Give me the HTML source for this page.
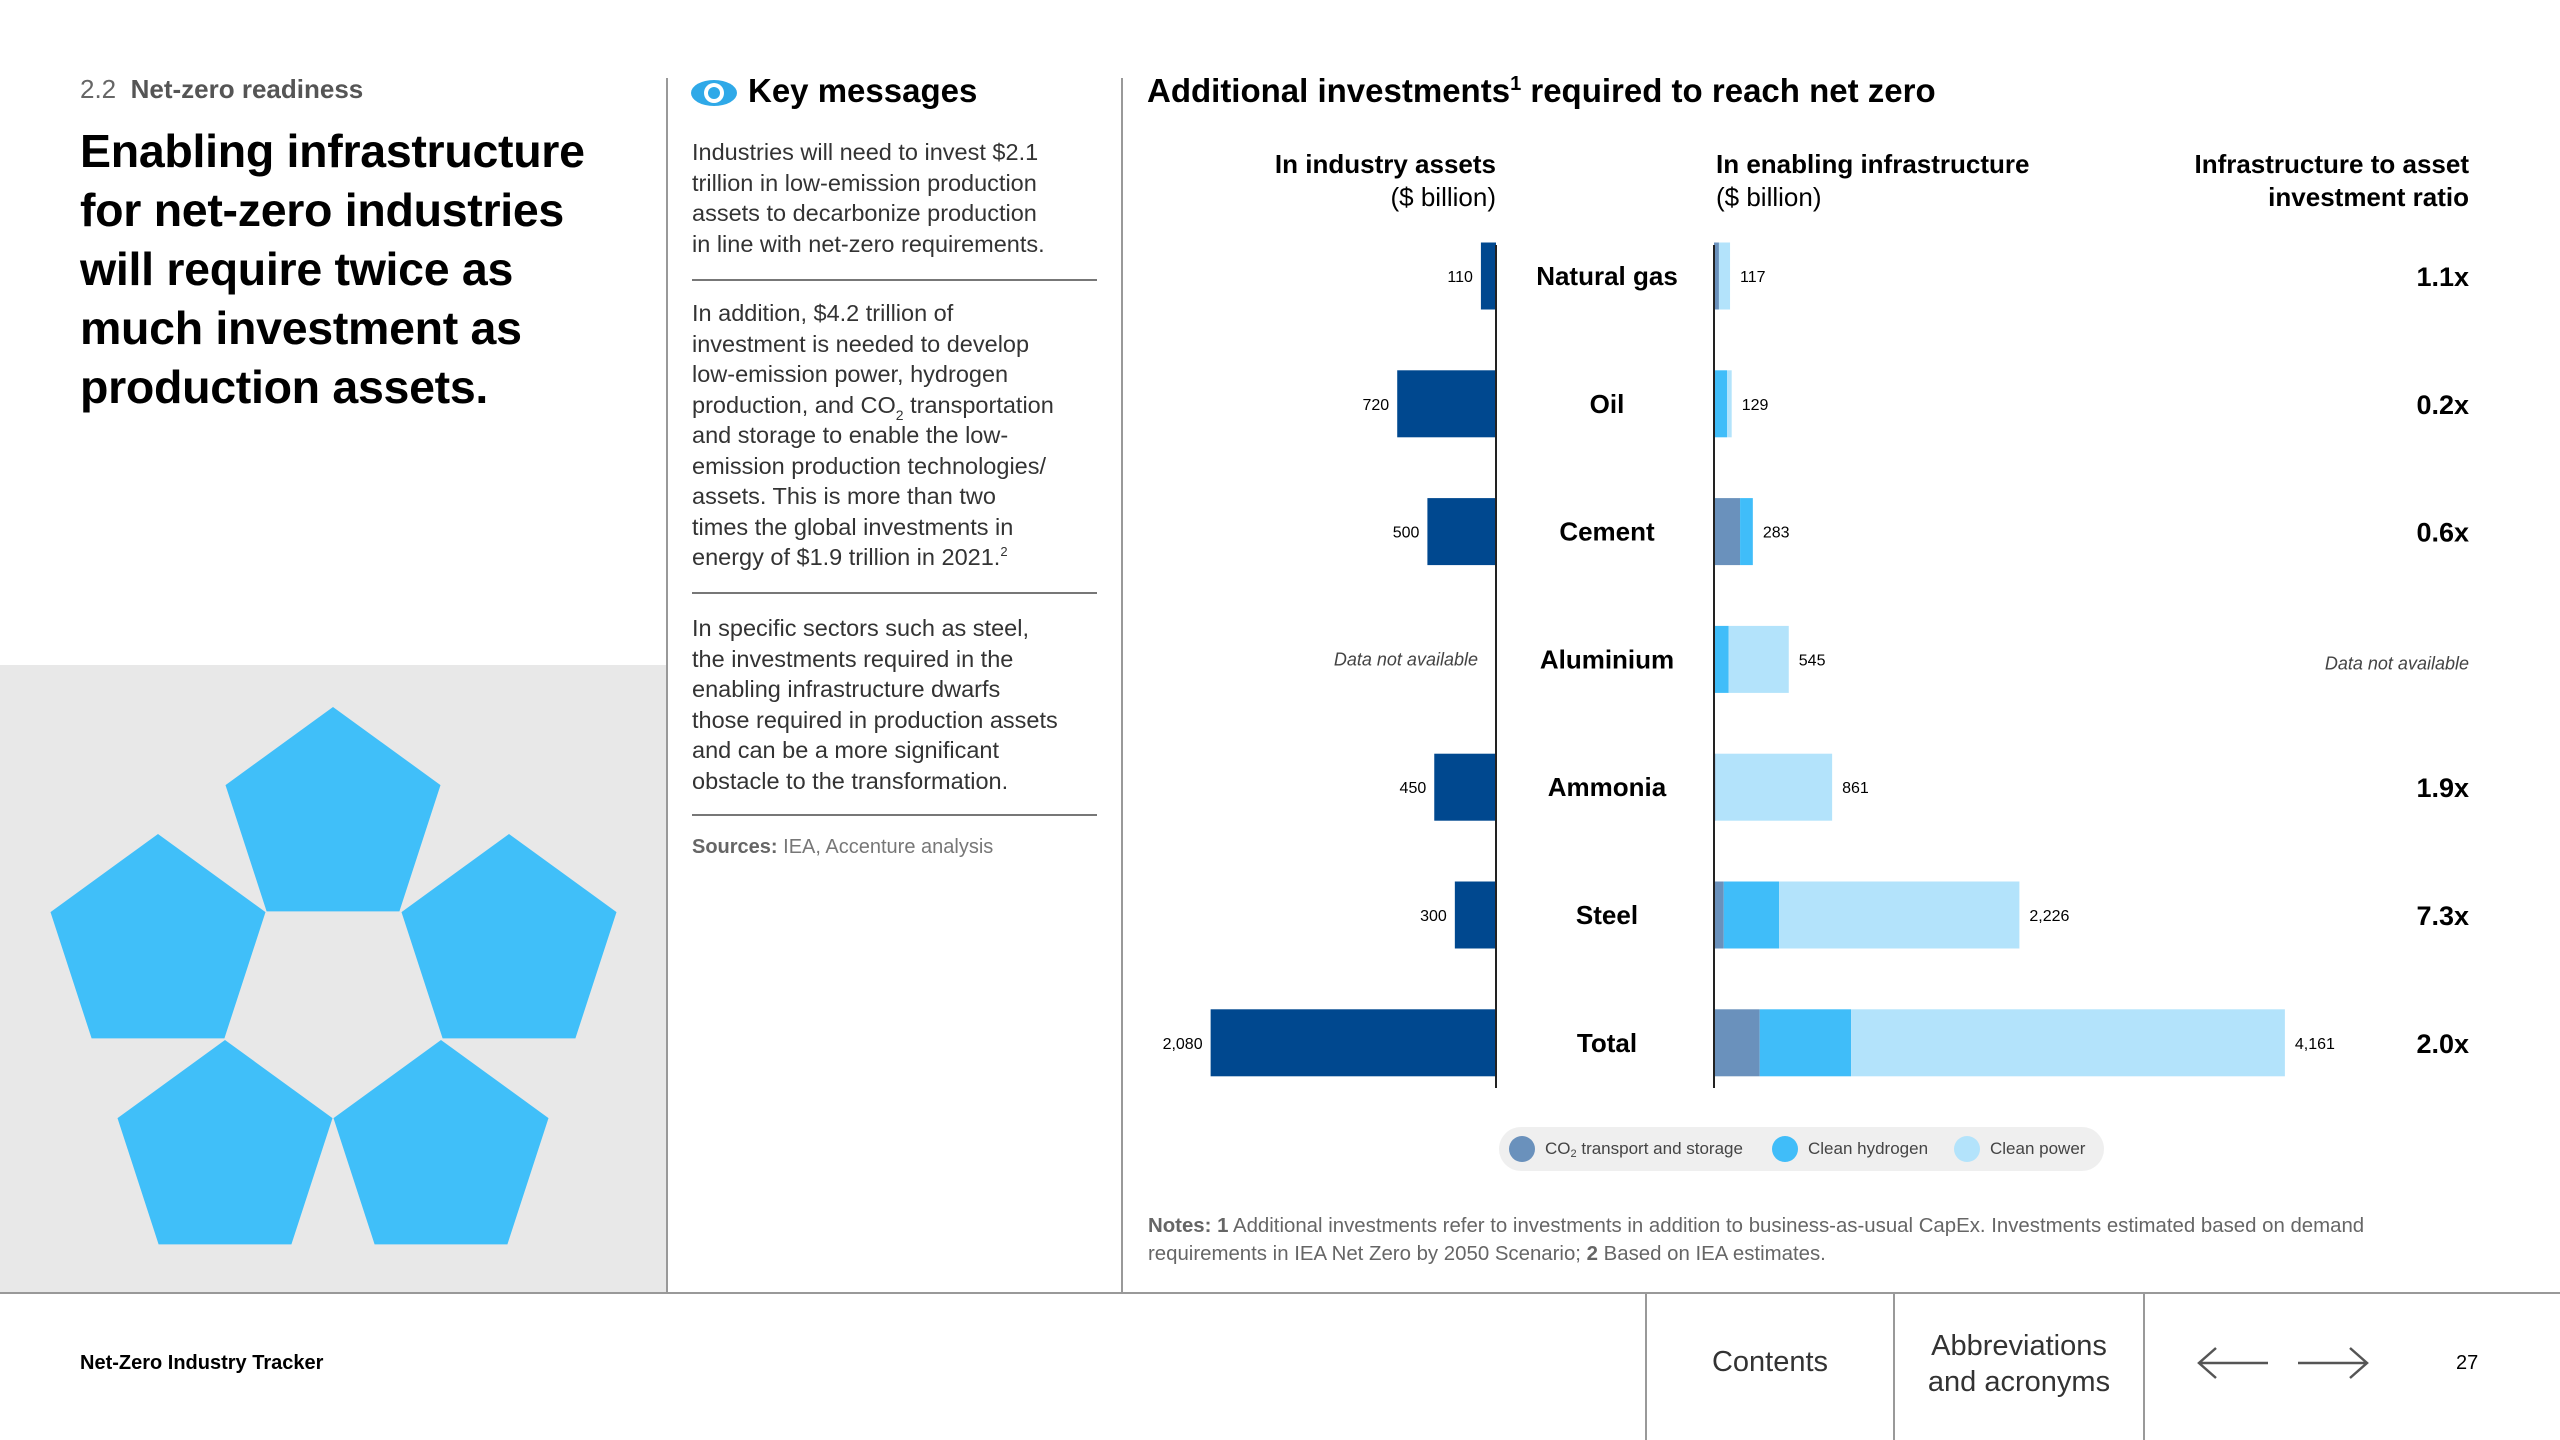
<!DOCTYPE html>
<html><head><meta charset="utf-8">
<style>
*{margin:0;padding:0;box-sizing:border-box}
body{width:2560px;height:1440px;position:relative;background:#fff;font-family:"Liberation Sans",sans-serif;color:#000;overflow:hidden}
.abs{position:absolute}
.body-txt{font-size:23.5px;line-height:30.5px;color:#333}
.sep{position:absolute;left:692px;width:405px;height:2px;background:#777}
.sb{position:relative;font-size:14px;line-height:0;top:7px}
.sp{position:relative;font-size:13px;line-height:0;top:-9px}
</style></head><body>
<div class="abs" style="left:80px;top:74px;font-size:26px;color:#666">2.2&nbsp; <span style="font-weight:bold;color:#555">Net-zero readiness</span></div>
<div class="abs" style="left:80px;top:122px;font-size:46.5px;line-height:59px;font-weight:bold;letter-spacing:-0.3px">Enabling infrastructure<br>for net-zero industries<br>will require twice as<br>much investment as<br>production assets.</div>
<div class="abs" style="left:0;top:665px;width:666px;height:628px;background:#e8e8e8"></div>
<svg class="abs" style="left:0;top:0" width="666" height="1293" id="pent"></svg>
<div class="abs" style="left:666px;top:78px;width:2px;height:1215px;background:#999"></div>
<div class="abs" style="left:1121px;top:78px;width:2px;height:1215px;background:#999"></div>
<svg class="abs" style="left:690px;top:78px" width="48" height="30"><ellipse cx="24" cy="15" rx="23" ry="13" fill="#2fa9e8"/><circle cx="24" cy="15" r="10" fill="#fff"/><circle cx="24" cy="15" r="6" fill="#2fa9e8"/></svg>
<div class="abs" style="left:748px;top:72px;font-size:33px;font-weight:bold">Key messages</div>
<div class="abs body-txt" style="left:692px;top:137px">Industries will need to invest $2.1<br>trillion in low-emission production<br>assets to decarbonize production<br>in line with net-zero requirements.</div>
<div class="sep" style="top:279px"></div>
<div class="abs body-txt" style="left:692px;top:298px">In addition, $4.2 trillion of<br>investment is needed to develop<br>low-emission power, hydrogen<br>production, and CO<span class="sb">2</span> transportation<br>and storage to enable the low-<br>emission production technologies/<br>assets. This is more than two<br>times the global investments in<br>energy of $1.9 trillion in 2021.<span class="sp">2</span></div>
<div class="sep" style="top:592px"></div>
<div class="abs body-txt" style="left:692px;top:613px">In specific sectors such as steel,<br>the investments required in the<br>enabling infrastructure dwarfs<br>those required in production assets<br>and can be a more significant<br>obstacle to the transformation.</div>
<div class="sep" style="top:814px"></div>
<div class="abs" style="left:692px;top:836px;font-size:20px;color:#777"><b style="color:#666">Sources:</b> IEA, Accenture analysis</div>

<div class="abs" style="left:1147px;top:72px;font-size:33px;font-weight:bold">Additional investments<span style="position:relative;font-size:20px;line-height:0;top:-12px">1</span> required to reach net zero</div>
<div class="abs" style="right:1064px;top:148px;font-size:26px;line-height:33px;text-align:right"><b>In industry assets</b><br>($ billion)</div>
<div class="abs" style="left:1716px;top:148px;font-size:26px;line-height:33px"><b>In enabling infrastructure</b><br>($ billion)</div>
<div class="abs" style="right:91px;top:148px;font-size:26px;line-height:33px;text-align:right;font-weight:bold">Infrastructure to asset<br>investment ratio</div>
<svg class="abs" id="chart" style="left:0;top:0" width="2560" height="1120"></svg>

<div class="abs" style="left:1499px;top:1127px;width:605px;height:44px;border-radius:22px;background:#efefef;font-size:17px;color:#444">
<span class="abs" style="left:10px;top:9px;display:flex;align-items:center;white-space:nowrap"><i style="display:inline-block;width:26px;height:26px;border-radius:50%;background:#6a91bc;margin-right:10px"></i>CO<span style="position:relative;font-size:11px;top:5px">2</span>&nbsp;transport and storage</span>
<span class="abs" style="left:273px;top:9px;display:flex;align-items:center;white-space:nowrap"><i style="display:inline-block;width:26px;height:26px;border-radius:50%;background:#40bdf9;margin-right:10px"></i>Clean hydrogen</span>
<span class="abs" style="left:455px;top:9px;display:flex;align-items:center;white-space:nowrap"><i style="display:inline-block;width:26px;height:26px;border-radius:50%;background:#b3e3fb;margin-right:10px"></i>Clean power</span>
</div>
<div class="abs" style="left:1148px;top:1212px;font-size:20.4px;line-height:28px;color:#666"><b>Notes: 1</b> Additional investments refer to investments in addition to business-as-usual CapEx. Investments estimated based on demand<br>requirements in IEA Net Zero by 2050 Scenario; <b>2</b> Based on IEA estimates.</div>

<div class="abs" style="left:0;top:1292px;width:2560px;height:2px;background:#999"></div>
<div class="abs" style="left:80px;top:1352px;font-size:20px;font-weight:bold">Net-Zero Industry Tracker</div>
<div class="abs" style="left:1645px;top:1293px;width:2px;height:147px;background:#999"></div>
<div class="abs" style="left:1893px;top:1293px;width:2px;height:147px;background:#999"></div>
<div class="abs" style="left:2143px;top:1293px;width:2px;height:147px;background:#999"></div>
<div class="abs" style="left:1647px;width:246px;top:1346px;text-align:center;font-size:29px;color:#333">Contents</div>
<div class="abs" style="left:1895px;width:248px;top:1328px;text-align:center;font-size:29px;line-height:36px;color:#333">Abbreviations<br>and acronyms</div>
<svg class="abs" style="left:2196px;top:1346px" width="74" height="34"><path d="M72 17H4M20 2L3 17L20 32" stroke="#555" stroke-width="2.5" fill="none"/></svg>
<svg class="abs" style="left:2296px;top:1346px" width="74" height="34"><path d="M2 17H70M54 2L71 17L54 32" stroke="#555" stroke-width="2.5" fill="none"/></svg>
<div class="abs" style="left:2456px;top:1352px;font-size:20px">27</div>

<script>
const categories=["Natural gas","Oil","Cement","Aluminium","Ammonia","Steel","Total"];
const assets=[110,720,500,null,450,300,2080];
const co2=[36,0,190,0,10,71,333];
const hydrogen=[0,95,93,107,0,404,666];
const power=[81,34,0,438,851,1751,3162];
const totals=[117,129,283,545,861,2226,4161];
const ratios=["1.1x","0.2x","0.6x",null,"1.9x","7.3x","2.0x"];

const NS="http://www.w3.org/2000/svg";
const svg=document.getElementById('chart');
const leftAxis=1496, rightAxis=1714, k=0.1372, rowTop=276, rowStep=127.8, barH=67;
function yC(i){return rowTop+i*rowStep;}
function sx(v){return v*k;}
function mk(tag,attrs){const e=document.createElementNS(NS,tag);for(const a in attrs)e.setAttribute(a,attrs[a]);svg.appendChild(e);return e;}
function txt(x,y,s,attrs){const t=mk('text',Object.assign({x:x,y:y,'font-family':'Liberation Sans, sans-serif'},attrs));t.textContent=s;return t;}

categories.forEach((c,i)=>{
  const y=yC(i);
  if(assets[i]!=null){
    const r=mk('rect',{x:leftAxis-sx(assets[i]),y:y-barH/2,width:sx(assets[i]),height:barH,fill:'#00488f'});
    
    
    const l=txt(leftAxis-sx(assets[i])-8,y+6,assets[i].toLocaleString('en-US'),{'font-size':16,'text-anchor':'end'});
    
    
  } else {
    const l=txt(leftAxis-18,y+6,'Data not available',{'font-size':18,'font-style':'italic','text-anchor':'end',fill:'#444'});
    
    
  }
  let x=rightAxis;
  [[co2,'#6a91bc','co2'],[hydrogen,'#40bdf9','hydrogen'],[power,'#b3e3fb','power']].forEach(([arr,col,n])=>{
    const w=sx(arr[i]);
    if(w>0){
      const r=mk('rect',{x:x,y:y-barH/2,width:w,height:barH,fill:col});
      
      
    }
    x+=w;
  });
  const tl=txt(rightAxis+sx(totals[i])+10,y+6,totals[i].toLocaleString('en-US'),{'font-size':16});
  
  
  const cl=txt(1607,y+9,c,{'font-size':26,'font-weight':'bold','text-anchor':'middle'});
  
  
  if(ratios[i]!=null){
    const rl=txt(2469,y+10,ratios[i],{'font-size':27,'font-weight':'bold','text-anchor':'end'});
    
    
  } else {
    const rl=txt(2469,y+10,'Data not available',{'font-size':18,'font-style':'italic','text-anchor':'end',fill:'#444'});
    
    
  }
});
const la=mk('line',{x1:leftAxis,x2:leftAxis,y1:245,y2:1088,stroke:'#222','stroke-width':2});


const ra=mk('line',{x1:rightAxis,x2:rightAxis,y1:245,y2:1088,stroke:'#222','stroke-width':2});



const p=document.getElementById('pent');
const centers=[[333,820],[158,947],[509,947],[225,1153],[441,1153]];
const R=113;
centers.forEach(([cx,cy],j)=>{
  let pts=[];
  for(let a=0;a<5;a++){const ang=(-90+72*a)*Math.PI/180;pts.push((cx+R*Math.cos(ang)).toFixed(1)+','+(cy+R*Math.sin(ang)).toFixed(1));}
  const e=document.createElementNS(NS,'polygon');
  e.setAttribute('points',pts.join(' '));
  e.setAttribute('fill','#40bff9');
  
  
  p.appendChild(e);
});
</script>
</body></html>
